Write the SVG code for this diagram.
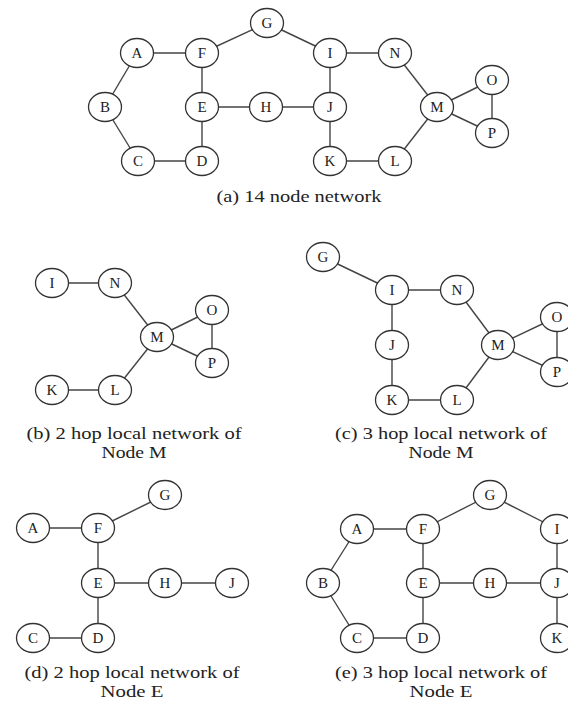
<svg xmlns="http://www.w3.org/2000/svg" width="568" height="705" viewBox="0 0 568 705">
<style>
.n ellipse{fill:#fff;stroke:#333;stroke-width:1.3}
.n text{font-family:"Liberation Serif",serif;font-size:15px;fill:#222;text-anchor:middle}
.e line{stroke:#444;stroke-width:1.4}
.cap{font-family:"Liberation Serif",serif;font-size:17px;fill:#222;text-anchor:middle}
</style>
<rect width="568" height="705" fill="#fff"/>

<!-- (a) -->
<g id="a-edges" class="e">
<line x1="137" y1="53" x2="202" y2="53"/>
<line x1="202" y1="53" x2="267" y2="23"/>
<line x1="267" y1="23" x2="330" y2="53"/>
<line x1="330" y1="53" x2="395" y2="53"/>
<line x1="137" y1="53" x2="105" y2="107"/>
<line x1="105" y1="107" x2="138" y2="161"/>
<line x1="138" y1="161" x2="202" y2="161"/>
<line x1="202" y1="161" x2="202" y2="107"/>
<line x1="202" y1="107" x2="202" y2="53"/>
<line x1="202" y1="107" x2="266" y2="107"/>
<line x1="266" y1="107" x2="330" y2="107"/>
<line x1="330" y1="53" x2="330" y2="107"/>
<line x1="330" y1="107" x2="330" y2="161"/>
<line x1="330" y1="161" x2="395" y2="161"/>
<line x1="395" y1="161" x2="437" y2="107"/>
<line x1="395" y1="53" x2="437" y2="107"/>
<line x1="437" y1="107" x2="492" y2="80"/>
<line x1="437" y1="107" x2="492" y2="133"/>
<line x1="492" y1="80" x2="492" y2="133"/>
</g>
<g id="a-G" class="n"><ellipse cx="267" cy="23" rx="16.5" ry="14.5"/><text x="267" y="28">G</text></g>
<g id="a-A" class="n"><ellipse cx="137" cy="53" rx="16.5" ry="14.5"/><text x="137" y="58">A</text></g>
<g id="a-F" class="n"><ellipse cx="202" cy="53" rx="16.5" ry="14.5"/><text x="202" y="58">F</text></g>
<g id="a-I" class="n"><ellipse cx="330" cy="53" rx="16.5" ry="14.5"/><text x="330" y="58">I</text></g>
<g id="a-N" class="n"><ellipse cx="395" cy="53" rx="16.5" ry="14.5"/><text x="395" y="58">N</text></g>
<g id="a-B" class="n"><ellipse cx="105" cy="107" rx="16.5" ry="14.5"/><text x="105" y="112">B</text></g>
<g id="a-E" class="n"><ellipse cx="202" cy="107" rx="16.5" ry="14.5"/><text x="202" y="112">E</text></g>
<g id="a-H" class="n"><ellipse cx="266" cy="107" rx="16.5" ry="14.5"/><text x="266" y="112">H</text></g>
<g id="a-J" class="n"><ellipse cx="330" cy="107" rx="16.5" ry="14.5"/><text x="330" y="112">J</text></g>
<g id="a-M" class="n"><ellipse cx="437" cy="107" rx="16.5" ry="14.5"/><text x="437" y="112">M</text></g>
<g id="a-O" class="n"><ellipse cx="492" cy="80" rx="16.5" ry="14.5"/><text x="492" y="85">O</text></g>
<g id="a-P" class="n"><ellipse cx="492" cy="133" rx="16.5" ry="14.5"/><text x="492" y="138">P</text></g>
<g id="a-C" class="n"><ellipse cx="138" cy="161" rx="16.5" ry="14.5"/><text x="138" y="166">C</text></g>
<g id="a-D" class="n"><ellipse cx="202" cy="161" rx="16.5" ry="14.5"/><text x="202" y="166">D</text></g>
<g id="a-K" class="n"><ellipse cx="330" cy="161" rx="16.5" ry="14.5"/><text x="330" y="166">K</text></g>
<g id="a-L" class="n"><ellipse cx="395" cy="161" rx="16.5" ry="14.5"/><text x="395" y="166">L</text></g>
<text class="cap" x="299" y="202" textLength="165" lengthAdjust="spacingAndGlyphs">(a) 14 node network</text>

<!-- (b) -->
<g id="b-edges" class="e">
<line x1="52" y1="283" x2="115" y2="283"/>
<line x1="115" y1="283" x2="157" y2="337"/>
<line x1="157" y1="337" x2="212" y2="310"/>
<line x1="157" y1="337" x2="212" y2="363"/>
<line x1="212" y1="310" x2="212" y2="363"/>
<line x1="157" y1="337" x2="115" y2="390"/>
<line x1="52" y1="390" x2="115" y2="390"/>
</g>
<g id="b-I" class="n"><ellipse cx="52" cy="283" rx="16.5" ry="14.5"/><text x="52" y="288">I</text></g>
<g id="b-N" class="n"><ellipse cx="115" cy="283" rx="16.5" ry="14.5"/><text x="115" y="288">N</text></g>
<g id="b-O" class="n"><ellipse cx="212" cy="310" rx="16.5" ry="14.5"/><text x="212" y="315">O</text></g>
<g id="b-M" class="n"><ellipse cx="157" cy="337" rx="16.5" ry="14.5"/><text x="157" y="342">M</text></g>
<g id="b-P" class="n"><ellipse cx="212" cy="363" rx="16.5" ry="14.5"/><text x="212" y="368">P</text></g>
<g id="b-K" class="n"><ellipse cx="52" cy="390" rx="16.5" ry="14.5"/><text x="52" y="395">K</text></g>
<g id="b-L" class="n"><ellipse cx="115" cy="390" rx="16.5" ry="14.5"/><text x="115" y="395">L</text></g>
<text class="cap" x="134" y="439" textLength="215" lengthAdjust="spacingAndGlyphs">(b) 2 hop local network of</text>
<text class="cap" x="134" y="458" textLength="65" lengthAdjust="spacingAndGlyphs">Node M</text>

<!-- (c) -->
<g id="c-edges" class="e">
<line x1="323" y1="257" x2="392" y2="290"/>
<line x1="392" y1="290" x2="457" y2="290"/>
<line x1="457" y1="290" x2="498" y2="345"/>
<line x1="392" y1="290" x2="392" y2="345"/>
<line x1="392" y1="345" x2="392" y2="400"/>
<line x1="392" y1="400" x2="457" y2="400"/>
<line x1="457" y1="400" x2="498" y2="345"/>
<line x1="498" y1="345" x2="557" y2="317"/>
<line x1="498" y1="345" x2="557" y2="372"/>
<line x1="557" y1="317" x2="557" y2="372"/>
</g>
<g id="c-G" class="n"><ellipse cx="323" cy="257" rx="16.5" ry="14.5"/><text x="323" y="262">G</text></g>
<g id="c-I" class="n"><ellipse cx="392" cy="290" rx="16.5" ry="14.5"/><text x="392" y="295">I</text></g>
<g id="c-N" class="n"><ellipse cx="457" cy="290" rx="16.5" ry="14.5"/><text x="457" y="295">N</text></g>
<g id="c-O" class="n"><ellipse cx="557" cy="317" rx="16.5" ry="14.5"/><text x="557" y="322">O</text></g>
<g id="c-J" class="n"><ellipse cx="392" cy="345" rx="16.5" ry="14.5"/><text x="392" y="350">J</text></g>
<g id="c-M" class="n"><ellipse cx="498" cy="345" rx="16.5" ry="14.5"/><text x="498" y="350">M</text></g>
<g id="c-P" class="n"><ellipse cx="557" cy="372" rx="16.5" ry="14.5"/><text x="557" y="377">P</text></g>
<g id="c-K" class="n"><ellipse cx="392" cy="400" rx="16.5" ry="14.5"/><text x="392" y="405">K</text></g>
<g id="c-L" class="n"><ellipse cx="457" cy="400" rx="16.5" ry="14.5"/><text x="457" y="405">L</text></g>
<text class="cap" x="441" y="439" textLength="212" lengthAdjust="spacingAndGlyphs">(c) 3 hop local network of</text>
<text class="cap" x="441" y="458" textLength="65" lengthAdjust="spacingAndGlyphs">Node M</text>

<!-- (d) -->
<g id="d-edges" class="e">
<line x1="33" y1="528" x2="98" y2="528"/>
<line x1="98" y1="528" x2="165" y2="495"/>
<line x1="98" y1="528" x2="98" y2="583"/>
<line x1="98" y1="583" x2="165" y2="583"/>
<line x1="165" y1="583" x2="232" y2="583"/>
<line x1="98" y1="583" x2="98" y2="638"/>
<line x1="33" y1="638" x2="98" y2="638"/>
</g>
<g id="d-G" class="n"><ellipse cx="165" cy="495" rx="16.5" ry="14.5"/><text x="165" y="500">G</text></g>
<g id="d-A" class="n"><ellipse cx="33" cy="528" rx="16.5" ry="14.5"/><text x="33" y="533">A</text></g>
<g id="d-F" class="n"><ellipse cx="98" cy="528" rx="16.5" ry="14.5"/><text x="98" y="533">F</text></g>
<g id="d-E" class="n"><ellipse cx="98" cy="583" rx="16.5" ry="14.5"/><text x="98" y="588">E</text></g>
<g id="d-H" class="n"><ellipse cx="165" cy="583" rx="16.5" ry="14.5"/><text x="165" y="588">H</text></g>
<g id="d-J" class="n"><ellipse cx="232" cy="583" rx="16.5" ry="14.5"/><text x="232" y="588">J</text></g>
<g id="d-C" class="n"><ellipse cx="33" cy="638" rx="16.5" ry="14.5"/><text x="33" y="643">C</text></g>
<g id="d-D" class="n"><ellipse cx="98" cy="638" rx="16.5" ry="14.5"/><text x="98" y="643">D</text></g>
<text class="cap" x="132" y="678" textLength="215" lengthAdjust="spacingAndGlyphs">(d) 2 hop local network of</text>
<text class="cap" x="132" y="697" textLength="63" lengthAdjust="spacingAndGlyphs">Node E</text>

<!-- (e) -->
<g id="e-edges" class="e">
<line x1="357" y1="529" x2="423" y2="529"/>
<line x1="423" y1="529" x2="490" y2="495"/>
<line x1="490" y1="495" x2="557" y2="529"/>
<line x1="357" y1="529" x2="323" y2="583"/>
<line x1="323" y1="583" x2="357" y2="638"/>
<line x1="357" y1="638" x2="423" y2="638"/>
<line x1="423" y1="638" x2="423" y2="583"/>
<line x1="423" y1="583" x2="423" y2="529"/>
<line x1="423" y1="583" x2="490" y2="583"/>
<line x1="490" y1="583" x2="557" y2="583"/>
<line x1="557" y1="529" x2="557" y2="583"/>
<line x1="557" y1="583" x2="557" y2="638"/>
</g>
<g id="e-G" class="n"><ellipse cx="490" cy="495" rx="16.5" ry="14.5"/><text x="490" y="500">G</text></g>
<g id="e-A" class="n"><ellipse cx="357" cy="529" rx="16.5" ry="14.5"/><text x="357" y="534">A</text></g>
<g id="e-F" class="n"><ellipse cx="423" cy="529" rx="16.5" ry="14.5"/><text x="423" y="534">F</text></g>
<g id="e-I" class="n"><ellipse cx="557" cy="529" rx="16.5" ry="14.5"/><text x="557" y="534">I</text></g>
<g id="e-B" class="n"><ellipse cx="323" cy="583" rx="16.5" ry="14.5"/><text x="323" y="588">B</text></g>
<g id="e-E" class="n"><ellipse cx="423" cy="583" rx="16.5" ry="14.5"/><text x="423" y="588">E</text></g>
<g id="e-H" class="n"><ellipse cx="490" cy="583" rx="16.5" ry="14.5"/><text x="490" y="588">H</text></g>
<g id="e-J" class="n"><ellipse cx="557" cy="583" rx="16.5" ry="14.5"/><text x="557" y="588">J</text></g>
<g id="e-C" class="n"><ellipse cx="357" cy="638" rx="16.5" ry="14.5"/><text x="357" y="643">C</text></g>
<g id="e-D" class="n"><ellipse cx="423" cy="638" rx="16.5" ry="14.5"/><text x="423" y="643">D</text></g>
<g id="e-K" class="n"><ellipse cx="557" cy="638" rx="16.5" ry="14.5"/><text x="557" y="643">K</text></g>
<text class="cap" x="441" y="678" textLength="212" lengthAdjust="spacingAndGlyphs">(e) 3 hop local network of</text>
<text class="cap" x="441" y="697" textLength="63" lengthAdjust="spacingAndGlyphs">Node E</text>
</svg>
